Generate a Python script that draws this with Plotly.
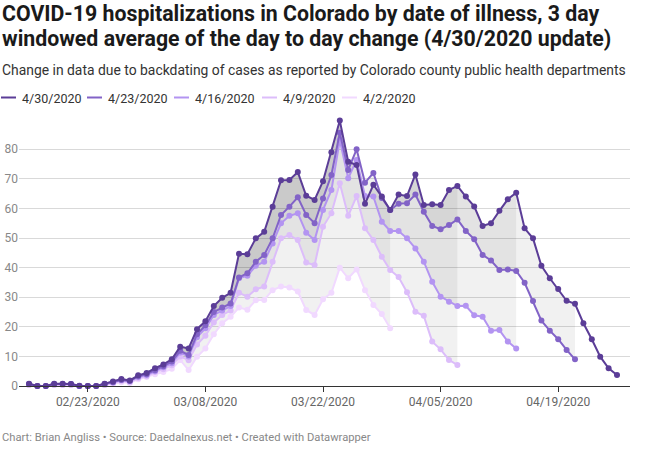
import plotly.graph_objects as go
import pandas as pd

START_DATE = "2020-02-16"
SERIES_NAMES = ["4/30/2020", "4/23/2020", "4/16/2020", "4/9/2020", "4/2/2020"]

v_0430 = [0.8, 0, 0, 0.8, 0.8, 0.7, 0.1, 0, 0, 0.8, 1.5, 2.4, 1.9, 3.6, 4.4, 6.0, 7.3, 9.0, 13.3, 12.7,
          19.2, 21.9, 27.0, 29.8, 31.5, 44.7, 44.5, 49.9, 52.1, 60.6, 69.5, 69.6, 72.3, 64.3, 62.9, 69.2,
          79.0, 89.7, 75.8, 74.7, 61.6, 68.0, 64.0, 59.5, 64.7, 64.2, 71.5, 61.2, 61.4, 61.2, 66.2, 67.6,
          64.0, 60.7, 54.1, 55.0, 59.2, 63.1, 65.3, 53.3, 49.9, 40.6, 36.4, 32.8, 28.8, 27.8, 21.2, 15.8,
          9.9, 6.0, 3.7]
v_0423 = [0.7, 0, 0, 0.7, 0.7, 0.7, 0, 0, 0, 0.7, 1.3, 2.0, 1.7, 3.3, 4.0, 5.3, 6.7, 8.3, 11.9, 10.5,
          17.5, 20.5, 25.0, 26.5, 27.9, 36.7, 38.1, 42.0, 44.3, 49.9, 57.8, 60.6, 63.8, 57.8, 55.0, 63.4,
          71.3, 85.6, 73.0, 80.0, 68.7, 72.0, 63.5, 59.5, 61.6, 61.8, 64.7, 58.9, 54.1, 53.0, 54.4, 56.3,
          52.4, 49.6, 44.3, 42.4, 39.2, 39.4, 38.9, 34.9, 28.7, 22.1, 18.7, 15.8, 12.2, 9.0]
v_0416 = [0.7, 0, 0, 0.7, 0.7, 0.7, 0, 0, 0, 0.7, 1.3, 2.0, 1.7, 3.0, 3.7, 5.0, 6.3, 7.7, 11.3, 10.0,
          16.5, 19.5, 24.0, 25.5, 27.0, 36.4, 37.3, 40.6, 42.0, 48.2, 55.0, 57.5, 58.4, 51.8, 49.3, 59.5,
          66.2, 83.1, 70.2, 76.4, 64.2, 64.0, 55.5, 52.4, 52.4, 49.9, 46.5, 42.0, 35.2, 30.2, 28.5, 27.0,
          27.1, 23.9, 23.4, 18.7, 18.9, 15.0, 12.7]
v_0409 = [0.3, 0, 0, 0.3, 0.3, 0.3, 0, 0, 0, 0.3, 1.0, 1.7, 1.3, 2.7, 3.3, 4.7, 5.7, 7.0, 10.0, 8.7,
          14.0, 17.0, 21.5, 24.0, 25.5, 31.5, 30.2, 32.7, 33.6, 42.0, 49.9, 51.0, 49.3, 41.7, 40.9, 53.8,
          58.4, 68.5, 57.5, 64.2, 53.3, 49.3, 43.7, 39.2, 36.8, 31.7, 25.1, 23.7, 15.0, 12.4, 8.8, 7.1]
v_0402 = [0.3, 0, 0, 0.3, 0.3, 0.3, 0, 0, 0, 0.3, 0.7, 1.3, 1.0, 2.3, 3.0, 4.0, 4.7, 5.8, 8.8, 5.4,
          9.9, 12.7, 17.5, 21.2, 23.4, 26.5, 25.8, 29.0, 29.1, 32.4, 33.6, 33.3, 31.9, 25.7, 24.0, 29.3,
          31.5, 40.0, 36.4, 39.4, 32.4, 27.4, 24.3, 19.5]

SERIES_VALUES = [v_0430, v_0423, v_0416, v_0409, v_0402]
COLORS = ["#5b3d97", "#8263c7", "#b394f1", "#dcbdfa", "#f1d9ff"]

TICK_DATES = ["2020-02-23", "2020-03-08", "2020-03-22", "2020-04-05", "2020-04-19"]
TICK_TEXT = ["02/23/2020", "03/08/2020", "03/22/2020", "04/05/2020", "04/19/2020"]
Y_TICKS = [0, 10, 20, 30, 40, 50, 60, 70, 80]

TITLE_LINES = ["COVID-19 hospitalizations in Colorado by date of illness, 3 day",
               "windowed average of the day to day change (4/30/2020 update)"]
SUBTITLE = ("Change in data due to backdating of cases as reported by Colorado county "
            "public health departments")
FOOTER = "Chart: Brian Angliss \u2022 Source: Daedalnexus.net \u2022 Created with Datawrapper"

FONT = "Roboto, 'Open Sans', sans-serif"

start = pd.Timestamp(START_DATE)


def dates_for(vals):
    return list(pd.date_range(start, periods=len(vals), freq="D"))


fig = go.Figure()

# shaded areas between the latest update and each earlier update
top = v_0430
for vals in SERIES_VALUES[1:]:
    d = dates_for(vals)
    n = len(vals)
    fig.add_trace(go.Scatter(
        x=d + d[::-1], y=top[:n] + vals[::-1],
        fill="toself", fillcolor="rgba(0,0,0,0.055)",
        line=dict(width=0), mode="lines", hoverinfo="skip", showlegend=False))

# lines, oldest first so the newest is drawn on top
for name, vals, col in list(zip(SERIES_NAMES, SERIES_VALUES, COLORS))[::-1]:
    fig.add_trace(go.Scatter(
        x=dates_for(vals), y=vals, name=name, mode="lines+markers",
        line=dict(color=col, width=2), marker=dict(color=col, size=6),
        cliponaxis=False, showlegend=False))

# plot geometry
W, H = 650, 450
L, R, T, B = 19, 20, 117, 64
PW, PH = W - L - R, H - T - B
px_per_day = 8.4
first_px = 29
x0 = start + pd.Timedelta(days=(L - first_px) / px_per_day)
x1 = start + pd.Timedelta(days=(W - R - first_px) / px_per_day)
y_top = (386 - T) / 2.959


def px(xp):
    return (xp - L) / PW


def py(yp):
    return (H - B - yp) / PH


annotations = []
for line, ypix in zip(TITLE_LINES, [13, 38]):
    annotations.append(dict(text="<b>" + line + "</b>", x=px(0), y=py(ypix), xref="paper",
                            yref="paper", xanchor="left", yanchor="middle", showarrow=False,
                            font=dict(family=FONT, size=21.3, color="#1a1a1a")))
annotations += [
    dict(text=SUBTITLE, x=px(0), y=py(70), xref="paper", yref="paper", xanchor="left",
         yanchor="middle", showarrow=False, font=dict(family=FONT, size=13.9, color="#333333")),
    dict(text=FOOTER, x=px(0), y=py(437), xref="paper", yref="paper", xanchor="left",
         yanchor="middle", showarrow=False, font=dict(family=FONT, size=11.2, color="#888888")),
]
shapes = []
legend_x = [1, 87, 174, 262, 342]
for name, col, lx in zip(SERIES_NAMES, COLORS, legend_x):
    shapes.append(dict(type="line", xref="paper", yref="paper", x0=px(lx), x1=px(lx + 15),
                       y0=py(97.5), y1=py(97.5), line=dict(color=col, width=2)))
    annotations.append(dict(text=name, x=px(lx + 19), y=py(98), xref="paper", yref="paper",
                            xanchor="left", yanchor="middle", showarrow=False,
                            font=dict(family=FONT, size=12.5, color="#333333")))

fig.update_layout(
    width=W, height=H,
    margin=dict(l=L, r=R, t=T, b=B, autoexpand=False),
    paper_bgcolor="white", plot_bgcolor="white",
    font=dict(family=FONT),
    showlegend=False,
    annotations=annotations,
    shapes=shapes,
    hovermode=False,
)
fig.update_xaxes(type="date", range=[x0, x1], tickvals=TICK_DATES, ticktext=TICK_TEXT,
                 showgrid=False, showline=True, linecolor="#333333", linewidth=1,
                 ticks="outside", ticklen=5, tickcolor="#333333", tickwidth=1,
                 tickfont=dict(family=FONT, size=12, color="#666666"), zeroline=False,
                 automargin=False)
fig.update_yaxes(range=[0, y_top], tickvals=Y_TICKS, showgrid=True, gridcolor="#d9d9d9",
                 gridwidth=1, zeroline=False, showline=False, ticks="",
                 tickfont=dict(family=FONT, size=12, color="#888888"), automargin=False)

fig.write_html("out.html", config={"displayModeBar": False},
               post_script="document.body.style.margin='0px';")
